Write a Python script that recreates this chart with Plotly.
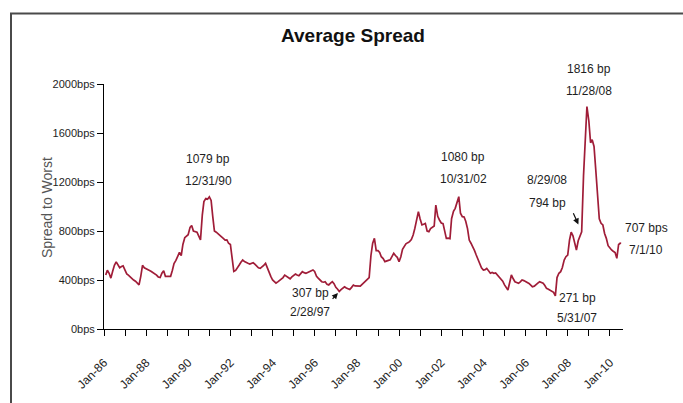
import pandas as pd
import plotly.graph_objects as go

# Average spread to worst (bps), last business day of each month, Jan-1986 .. Jun-2010
spread_bps = [
    # 1986
    440, 480, 455, 415, 470, 520, 548, 525, 500, 510, 515, 480,
    # 1987
    450, 440, 425, 410, 400, 390, 375, 360, 430, 520, 500, 490,
    # 1988
    485, 478, 470, 462, 450, 440, 425, 420, 455, 475, 430, 428,
    # 1989
    430, 430, 480, 535, 560, 595, 625, 600, 690, 745, 760, 770,
    # 1990
    830, 845, 800, 795, 790, 760, 728, 930, 1040, 1065, 1060, 1079,
    # 1991
    1050, 920, 800, 790, 775, 760, 752, 740, 726, 728, 700, 690,
    # 1992
    580, 470, 478, 495, 520, 545, 563, 550, 540, 536, 530, 538,
    # 1993
    541, 530, 515, 500, 495, 505, 520, 536, 500, 455, 430, 400,
    # 1994
    386, 375, 385, 395, 405, 420, 440, 430, 418, 410, 425, 440,
    # 1995
    448, 440, 435, 450, 468, 460, 455, 462, 470, 478, 482, 470,
    # 1996
    430, 415, 400, 386, 382, 386, 365, 360, 375, 386, 370, 340,
    # 1997
    325, 307, 322, 330, 345, 335, 325, 322, 340, 359, 352, 350,
    # 1998
    352, 350, 365, 380, 395, 405, 420, 600, 700, 740, 640, 640,
    # 1999
    625, 590, 575, 550, 552, 560, 565, 600, 618, 600, 585, 550,
    # 2000
    590, 650, 670, 695, 705, 713, 730, 767, 820, 880, 958, 900,
    # 2001
    850, 855, 862, 800, 795, 820, 830, 841, 1012, 920, 890, 865,
    # 2002
    860, 800, 740, 742, 738, 900, 960, 985, 1040, 1080, 945, 917,
    # 2003
    915, 880, 820, 726, 700, 672, 640, 604, 570, 522, 500, 482,
    # 2004
    485, 495, 470, 455, 462, 455, 458, 440, 425, 414, 390, 360,
    # 2005
    340, 318, 380, 441, 410, 386, 380, 373, 385, 400, 395, 388,
    # 2006
    385, 372, 358, 345, 350, 359, 375, 386, 380, 373, 355, 332,
    # 2007
    325, 318, 310, 300, 271, 420, 455, 468, 500, 563, 590, 604,
    # 2008
    726, 790, 760, 700, 645, 720, 760, 794, 1250, 1600, 1816, 1700,
    # 2009
    1520, 1545, 1490, 1300, 1100, 900, 863, 849, 780, 740, 680, 659,
    # 2010
    645, 635, 625, 577, 690, 700,
]
latest_date = "2010-07-01"
latest_bps = 707

y_ticks = [0, 400, 800, 1200, 1600, 2000]
y_tick_labels = [f"{v}bps" for v in y_ticks]

# (text, x px, y px) callouts around the main turning points
callouts = [
    ("1079 bp", 208, 159), ("12/31/90", 208, 181),
    ("307 bp", 310, 293), ("2/28/97", 310, 312),
    ("1080 bp", 463, 157), ("10/31/02", 463, 179),
    ("8/29/08", 547, 180), ("794 bp", 547, 203),
    ("1816 bp", 589, 69), ("11/28/08", 589, 91),
    ("271 bp", 577, 298), ("5/31/07", 577, 318),
    ("707 bps", 646, 228), ("7/1/10", 646, 250),
]

try:
    dates = pd.date_range("1986-01-01", periods=len(spread_bps), freq="BME")
except ValueError:
    dates = pd.date_range("1986-01-01", periods=len(spread_bps), freq="BM")
x = list(dates) + [pd.Timestamp(latest_date)]
y = spread_bps + [latest_bps]

W, H = 683, 403
PL, PR, PT, PB = 104, 623, 84, 329


def paper_x(px):
    return (px - PL) / (PR - PL)


def paper_y(py):
    return (PB - py) / (PB - PT)


FONT = "Liberation Sans, Arial, sans-serif"
TXT = "#1e1e1e"

fig = go.Figure()
fig.add_trace(go.Scatter(
    x=x, y=y, mode="lines",
    line=dict(color="#A01D38", width=1.7),
    hoverinfo="skip", showlegend=False,
))

annotations = []
for text, px, py in callouts:
    annotations.append(dict(
        text=text, xref="paper", yref="paper",
        x=paper_x(px), y=paper_y(py), xanchor="center", yanchor="middle",
        showarrow=False, font=dict(family=FONT, size=12, color=TXT),
    ))

# small pointer arrows to the 2/28/97 low and the 8/29/08 level
arrow_targets = [(dates[spread_bps.index(307)], 307, -8, 9, 2),
                 (dates[(2008 - 1986) * 12 + 7], 794, -9, -20, 8)]
for ax_date, val, dx, dy, stand in arrow_targets:
    annotations.append(dict(
        x=ax_date, y=val, xref="x", yref="y", text="", showarrow=True,
        ax=dx, ay=dy, arrowhead=2, arrowsize=1, arrowwidth=1.2,
        arrowcolor="#111111", standoff=stand,
    ))

annotations.append(dict(
    text="<b>Average Spread</b>", xref="paper", yref="paper",
    x=paper_x(353), y=paper_y(35), xanchor="center", yanchor="middle",
    showarrow=False, font=dict(family=FONT, size=19, color="#111111"),
))
annotations.append(dict(
    text="Spread to Worst", xref="paper", yref="paper",
    x=paper_x(47), y=paper_y(208), xanchor="center", yanchor="middle",
    textangle=-90, showarrow=False,
    font=dict(family=FONT, size=14, color="#555555"),
))

# page frame lines (left and top)
frame = dict(color="#4a4a4a", width=2)
shapes = [
    dict(type="line", xref="paper", yref="paper",
         x0=paper_x(11), x1=paper_x(11), y0=paper_y(13.5), y1=paper_y(403), line=frame),
    dict(type="line", xref="paper", yref="paper",
         x0=paper_x(10), x1=paper_x(683), y0=paper_y(13.5), y1=paper_y(13.5), line=frame),
]

fig.update_layout(
    width=W, height=H,
    margin=dict(l=PL, r=W - PR, t=PT, b=H - PB),
    paper_bgcolor="white", plot_bgcolor="white",
    annotations=annotations, shapes=shapes,
    xaxis=dict(
        type="date", range=["1986-01-01", "2010-08-15"],
        tick0="1986-01-01", dtick="M24", tickformat="%b-%y",
        tickangle=-45, ticks="outside", ticklen=6, tickcolor="black",
        showline=True, linecolor="black", linewidth=1,
        showgrid=False, zeroline=False, automargin=False,
        ticklabelstandoff=15,
        tickfont=dict(family=FONT, size=12, color=TXT),
        minor=dict(dtick="M12", tick0="1986-01-01", ticks="outside",
                   ticklen=6, tickcolor="black", showgrid=False),
    ),
    yaxis=dict(
        range=[0, 2000], tickvals=y_ticks, ticktext=y_tick_labels,
        ticks="outside", ticklen=6, tickcolor="black",
        showline=True, linecolor="black", linewidth=1,
        showgrid=False, zeroline=False, automargin=False,
        tickfont=dict(family=FONT, size=11, color=TXT),
    ),
)

fig.write_html("out.html")
